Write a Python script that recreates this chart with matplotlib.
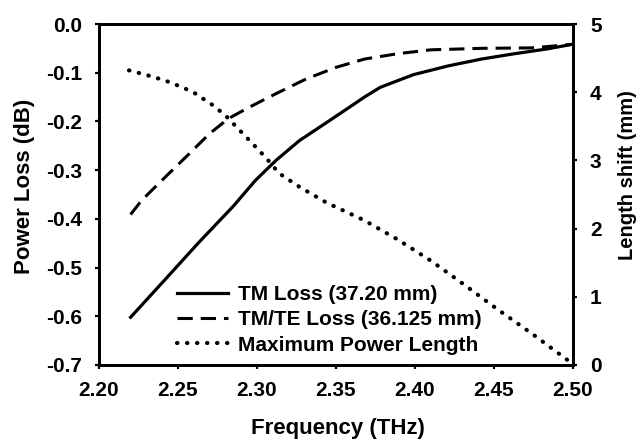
import matplotlib
matplotlib.use("Agg")
import matplotlib.pyplot as plt

plt.rcParams['font.family'] = ['Liberation Sans', 'DejaVu Sans']
plt.rcParams['font.weight'] = 'bold'

# TM Loss (solid), left axis
tm_f = [2.220, 2.242, 2.263, 2.285, 2.299, 2.312, 2.327, 2.340, 2.352, 2.368, 2.378,
        2.399, 2.421, 2.442, 2.463, 2.484, 2.499]
tm_loss = [-0.602, -0.524, -0.449, -0.374, -0.321, -0.280, -0.239, -0.211, -0.185, -0.150, -0.130,
           -0.104, -0.086, -0.072, -0.061, -0.051, -0.042]

# TM/TE Loss (dashed), left axis
te_f = [2.220, 2.227, 2.242, 2.255, 2.270, 2.282, 2.295, 2.312, 2.331, 2.350, 2.368,
        2.389, 2.410, 2.442, 2.474, 2.499]
te_loss = [-0.391, -0.362, -0.314, -0.273, -0.225, -0.194, -0.171, -0.143, -0.113, -0.089, -0.072,
           -0.061, -0.053, -0.050, -0.049, -0.042]

# Maximum Power Length (dotted), right axis
mp_f = [2.219, 2.232, 2.242, 2.253, 2.261, 2.272, 2.280, 2.287, 2.297, 2.306, 2.314,
        2.327, 2.344, 2.368, 2.389, 2.410, 2.431, 2.452, 2.474, 2.499]
mp_len = [4.32, 4.24, 4.17, 4.07, 3.98, 3.81, 3.66, 3.49, 3.25, 3.03, 2.81,
          2.61, 2.38, 2.12, 1.84, 1.53, 1.18, 0.82, 0.46, 0.03]

xticks = [2.20, 2.25, 2.30, 2.35, 2.40, 2.45, 2.50]
yticks_left = [0.0, -0.1, -0.2, -0.3, -0.4, -0.5, -0.6, -0.7]
yticks_right = [0, 1, 2, 3, 4, 5]

fig = plt.figure(figsize=(6.37, 4.43), dpi=100)
ax = fig.add_axes([99/637, 1-365/443, (573-99)/637, (365-24)/443])
ax2 = ax.twinx()

l1, = ax.plot(tm_f, tm_loss, color='black', lw=2.3, ls='-', label='TM Loss (37.20 mm)')
l2, = ax.plot(te_f, te_loss, color='black', lw=2.2, ls=(0, (5, 2.6)), label='TM/TE Loss (36.125 mm)')
l3, = ax2.plot(mp_f, mp_len, color='black', lw=3.0, ls=(0, (0.1, 2.3)), dash_capstyle='round',
               label='Maximum Power Length')

ax.set_xlim(2.20, 2.50)
ax.set_ylim(-0.7, 0.0)
ax2.set_ylim(0, 5)
ax.set_xticks(xticks)
ax.set_xticklabels([f"{v:.2f}" for v in xticks])
ax.set_yticks(yticks_left)
ax.set_yticklabels([f"{v:.1f}" for v in yticks_left])
ax2.set_yticks(yticks_right)
ax2.set_yticklabels([str(v) for v in yticks_right])

for a in (ax, ax2):
    for s in a.spines.values():
        s.set_linewidth(2.0)
    a.tick_params(direction='out', length=3, width=1.6, labelsize=15)
ax.tick_params(axis='x', pad=8.5)
ax.tick_params(axis='y', pad=9.2)
ax2.tick_params(axis='y', pad=9.2)

ax.set_xlabel('Frequency (THz)', fontsize=16, fontweight='bold')
ax.xaxis.set_label_coords(0.504, -0.155)
ax.set_ylabel('Power Loss (dB)', fontsize=16, fontweight='bold')
ax.yaxis.set_label_coords(-0.135, 0.523)
ax2.set_ylabel('Length shift (mm)', fontsize=14.5, fontweight='bold')
ax2.yaxis.set_label_coords(1.095, 0.558)

leg = ax.legend(handles=[l1, l2, l3], loc='lower left', bbox_to_anchor=(0.165, 0.030),
                frameon=False, fontsize=15, handlelength=2.45, handletextpad=0.48,
                labelspacing=0.31, borderaxespad=0, borderpad=0)
for t in leg.get_texts():
    t.set_fontweight('bold')

fig.savefig('out.png', dpi=100)
